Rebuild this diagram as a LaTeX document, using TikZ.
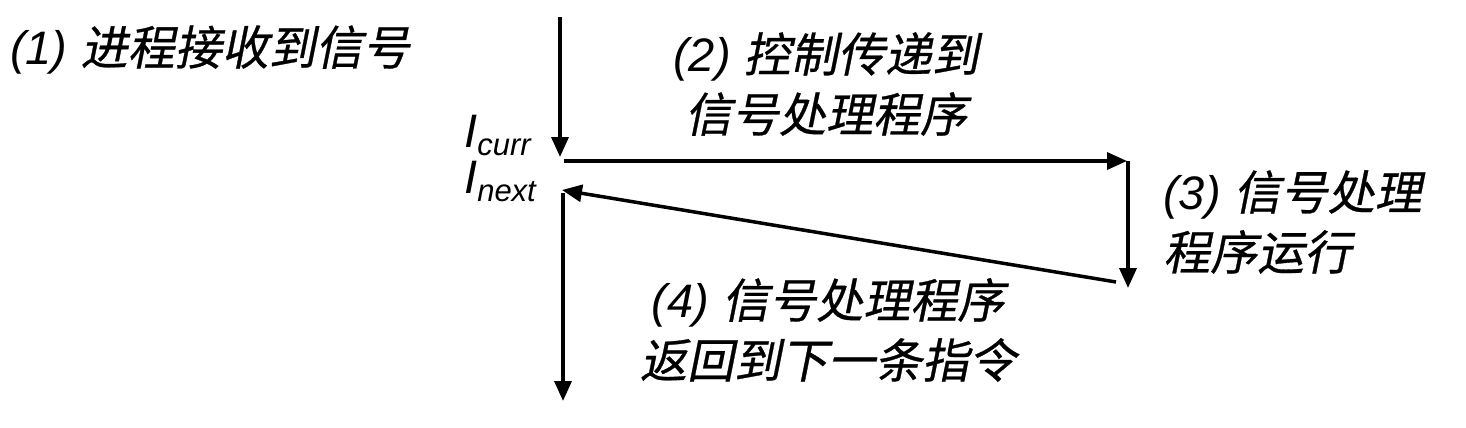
\documentclass[tikz,border=0pt]{standalone}
\usepackage{fontspec}
\setmainfont{Liberation Sans}
\newfontfamily\cjkfont[FakeSlant=0.2,FakeBold=0.6]{Noto Sans CJK SC}
\usetikzlibrary{arrows.meta}
\newcommand\zh[1]{{\cjkfont #1}}
\begin{document}
\begin{tikzpicture}[x=1pt,y=-1pt,
  flow/.style={line width=3.5pt,-{Triangle[length=20pt,width=17pt]}},
  lbl/.style={font=\fontsize{47}{60}\selectfont\itshape,inner sep=0pt,align=center},
  sub/.style={font=\itshape,inner sep=0pt,anchor=base west}]
\useasboundingbox (0,0) rectangle (1466,428);
\fill[white] (0,0) rectangle (1466,428);
% coordinates
\coordinate (a0) at (560,17);
\coordinate (a1) at (560,157);
\coordinate (b0) at (564,161);
\coordinate (b1) at (1127,161);
\coordinate (c0) at (1128,161);
\coordinate (c1) at (1128,288);
\coordinate (d0) at (1116,282);
\coordinate (d1) at (562,190);
\coordinate (e0) at (563,193);
\coordinate (e1) at (563,401);
\draw[flow] (a0) -- (a1);
\draw[flow] (b0) -- (b1);
\draw[flow,-] (c0) -- ([yshift=-2pt]c0);
\draw[flow] ([yshift=-1.75pt]c0) -- (c1);
\draw[flow] (d0) -- (d1);
\draw[flow] (e0) -- (e1);
% labels
\node[lbl,anchor=west] (l1) at (10,50) {(1) \zh{进程接收到信号}};
\node[lbl] (l2) at (826,84) {(2) \zh{控制传递到}\\\zh{信号处理程序}};
\node[lbl,anchor=west,align=left] (l3) at (1163,222) {(3) \zh{信号处理}\\\zh{程序运行}};
\node[lbl] (l4) at (828,330) {(4) \zh{信号处理程序}\\\zh{返回到下一条指令}};
\node[sub] (ic) at (464,147) {\fontsize{47}{50}\selectfont I\raisebox{-8pt}{\fontsize{31}{34}\selectfont curr}};
\node[sub] (in) at (464,193) {\fontsize{47}{50}\selectfont I\raisebox{-8pt}{\fontsize{31}{34}\selectfont next}};
\end{tikzpicture}
\end{document}
